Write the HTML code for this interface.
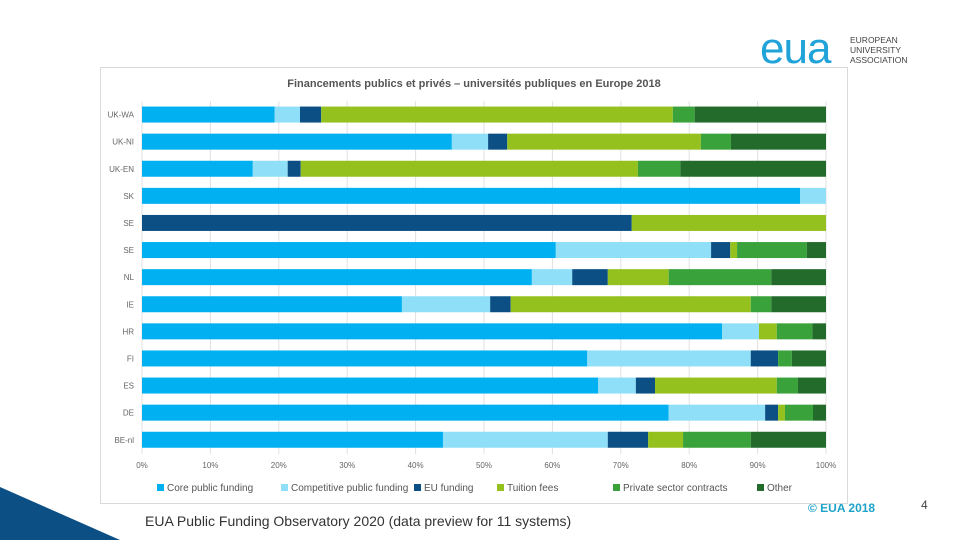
<!DOCTYPE html>
<html><head><meta charset="utf-8"><style>
body{margin:0;width:960px;height:540px;background:#fff;position:relative;overflow:hidden;font-family:"Liberation Sans",sans-serif}
</style></head><body>
<svg width="960" height="540" style="position:absolute;left:0;top:0">
<polygon points="0,487 0,540 120,540" fill="#0b4f85"/>
<g>
<text x="760" y="63" font-size="44" fill="#1fa3d9" font-family="Liberation Sans" letter-spacing="-1">eua</text>
<text x="850" y="43" font-size="8.5" fill="#444">EUROPEAN</text>
<text x="850" y="53" font-size="8.5" fill="#444">UNIVERSITY</text>
<text x="850" y="63" font-size="8.5" fill="#444">ASSOCIATION</text>
</g>
<text x="808" y="512" font-size="12" font-weight="bold" fill="#1fa3c9">© EUA 2018</text>
<text x="921" y="509" font-size="12" fill="#444">4</text>
<text x="145" y="526" font-size="14" fill="#333">EUA Public Funding Observatory 2020 (data preview for 11 systems)</text>
<rect x="100.5" y="67.5" width="747" height="436" fill="#fff" stroke="#d9d9d9"/>
<text x="474" y="87" font-size="11" font-weight="bold" fill="#555" text-anchor="middle">Financements publics et privés – universités publiques en Europe 2018</text>
<g id="grid"></g><g id="bars"></g><g id="ylab"></g><g id="xlab"></g><g id="legend"></g>
</svg>
<script>
const categories=["UK-WA","UK-NI","UK-EN","SK","SE","SE","NL","IE","HR","FI","ES","DE","BE-nl"];
const seriesNames=["Core public funding","Competitive public funding","EU funding","Tuition fees","Private sector contracts","Other"];
const core=[19.4,45.3,16.2,96.2,0,60.5,57,38,84.8,65.1,66.7,77,44];
const competitive=[3.7,5.3,5.1,3.8,0,22.7,5.9,12.9,5.4,23.9,5.5,14.1,24.1];
const euFunding=[3.1,2.8,1.9,0,71.6,2.8,5.2,3,0,4,2.8,1.9,5.9];
const tuition=[51.4,28.3,49.3,0,28.4,1,8.9,35.1,2.6,0,17.8,1,5.1];
const privateSector=[3.2,4.4,6.2,0,0,10.2,15,3,5.2,2,3.1,4.1,9.9];
const other=[19.2,13.9,21.3,0,0,2.8,8,8,2,5,4.1,1.9,11];
const ticks=["0%","10%","20%","30%","40%","50%","60%","70%","80%","90%","100%"];
const colors=["#00b0f0","#8fdff8","#0b4f85","#95c11f","#3aa23a","#236b2a"];
const NS="http://www.w3.org/2000/svg";
const x0=142,x1=826,yTop=101,step=27.1,bh=16;
const X=v=>x0+(x1-x0)*v/100;
const Y=i=>yTop+step*i+step/2;
function mk(t,a,p){const e=document.createElementNS(NS,t);for(const k in a)e.setAttribute(k,a[k]);p.appendChild(e);return e;}
const grid=document.getElementById('grid');
ticks.forEach((t,i)=>{const v=i*10;
 const l=mk('line',{x1:X(v),x2:X(v),y1:101,y2:454,stroke:"#e0e0e0"},grid);
 
 
 const tx=mk('text',{x:X(v),y:468,'font-size':8,fill:'#666','text-anchor':'middle'},document.getElementById('xlab'));
 tx.textContent=t;
 
 
});
const series=[core,competitive,euFunding,tuition,privateSector,other];
const bars=document.getElementById('bars');
categories.forEach((c,i)=>{
 let acc=0;
 series.forEach((s,k)=>{const v=s[i];if(v>0){
  const r=mk('rect',{x:X(acc),y:Y(i)-bh/2,width:X(acc+v)-X(acc),height:bh,fill:colors[k]},bars);
  
  
 }acc+=v;});
 const t=mk('text',{x:134,y:Y(i)+3,'font-size':8,fill:'#666','text-anchor':'end'},document.getElementById('ylab'));
 t.textContent=c;
 
 
});
const lx=[157,281,414,497,613,757];
const lg=document.getElementById('legend');
seriesNames.forEach((n,k)=>{
 const g=mk('g',{},lg);
 
 
 mk('rect',{x:lx[k],y:484,width:7,height:7,fill:colors[k]},g);
 const t=mk('text',{x:lx[k]+10,y:491,'font-size':10,fill:'#555'},g);
 t.textContent=n;
});
</script>
</body></html>
